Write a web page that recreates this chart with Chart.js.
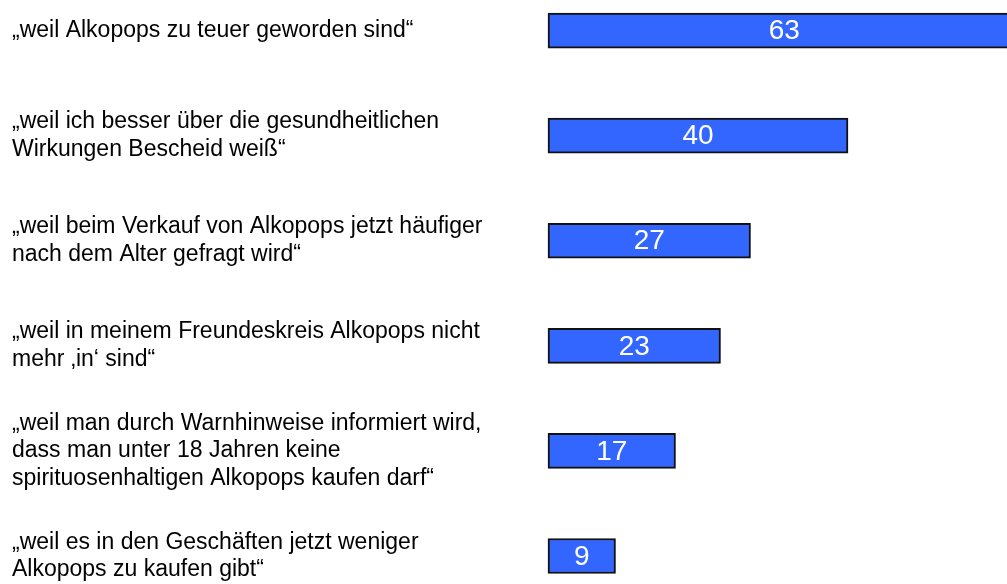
<!DOCTYPE html>
<html>
<head>
<meta charset="utf-8">
<script src="https://cdn.jsdelivr.net/npm/chart.js@4/dist/chart.umd.min.js"></script>
<style>
  html, body { margin: 0; padding: 0; background: #ffffff; }
  #wrap { width: 1007px; height: 584px; }
</style>
</head>
<body>
<div id="wrap"><canvas id="c" width="1007" height="584"></canvas></div>
<script>
const categories = [
  ["„weil Alkopops zu teuer geworden sind“"],
  ["„weil ich besser über die gesundheitlichen", "Wirkungen Bescheid weiß“"],
  ["„weil beim Verkauf von Alkopops jetzt häufiger", "nach dem Alter gefragt wird“"],
  ["„weil in meinem Freundeskreis Alkopops nicht", "mehr ‚in‘ sind“"],
  ["„weil man durch Warnhinweise informiert wird,", "dass man unter 18 Jahren keine", "spirituosenhaltigen Alkopops kaufen darf“"],
  ["„weil es in den Geschäften jetzt weniger", "Alkopops zu kaufen gibt“"]
];
const values = [63, 40, 27, 23, 17, 9];
const axisMin = 0;
const axisMax = 61.2;

const FONT = "'Liberation Sans', Arial, Helvetica, sans-serif";

const valueLabels = {
  id: 'valueLabels',
  afterDatasetsDraw(chart) {
    const ctx = chart.ctx;
    const meta = chart.getDatasetMeta(0);
    ctx.save();
    ctx.fillStyle = '#ffffff';
    ctx.font = '28px ' + FONT;
    ctx.textAlign = 'center';
    ctx.textBaseline = 'middle';
    meta.data.forEach((bar, i) => {
      const p = bar.getProps(['x', 'y', 'base'], true);
      ctx.fillText(String(values[i]), (p.x + p.base) / 2, p.y + 1);
    });
    ctx.restore();
  }
};

new Chart(document.getElementById('c'), {
  type: 'bar',
  data: {
    labels: categories,
    datasets: [{
      data: values,
      backgroundColor: '#3366FF',
      borderColor: '#111111',
      borderWidth: 2,
      borderSkipped: false,
      barThickness: 35,
      clip: false
    }]
  },
  options: {
    indexAxis: 'y',
    responsive: false,
    animation: false,
    devicePixelRatio: 1,
    layout: { padding: { left: 12, right: 0, top: 27, bottom: 28 } },
    plugins: { legend: { display: false }, tooltip: { enabled: false }, title: { display: false } },
    scales: {
      x: {
        display: false,
        min: axisMin,
        max: axisMax
      },
      y: {
        offset: false,
        grid: { display: false },
        border: { display: false },
        afterFit(scale) { scale.width = 536; },
        ticks: {
          autoSkip: false,
          maxRotation: 0,
          minRotation: 0,
          crossAlign: 'far',
          color: '#000000',
          font: { family: FONT, size: 23, lineHeight: 1.2 }
        }
      }
    }
  },
  plugins: [valueLabels]
});
</script>
</body>
</html>
